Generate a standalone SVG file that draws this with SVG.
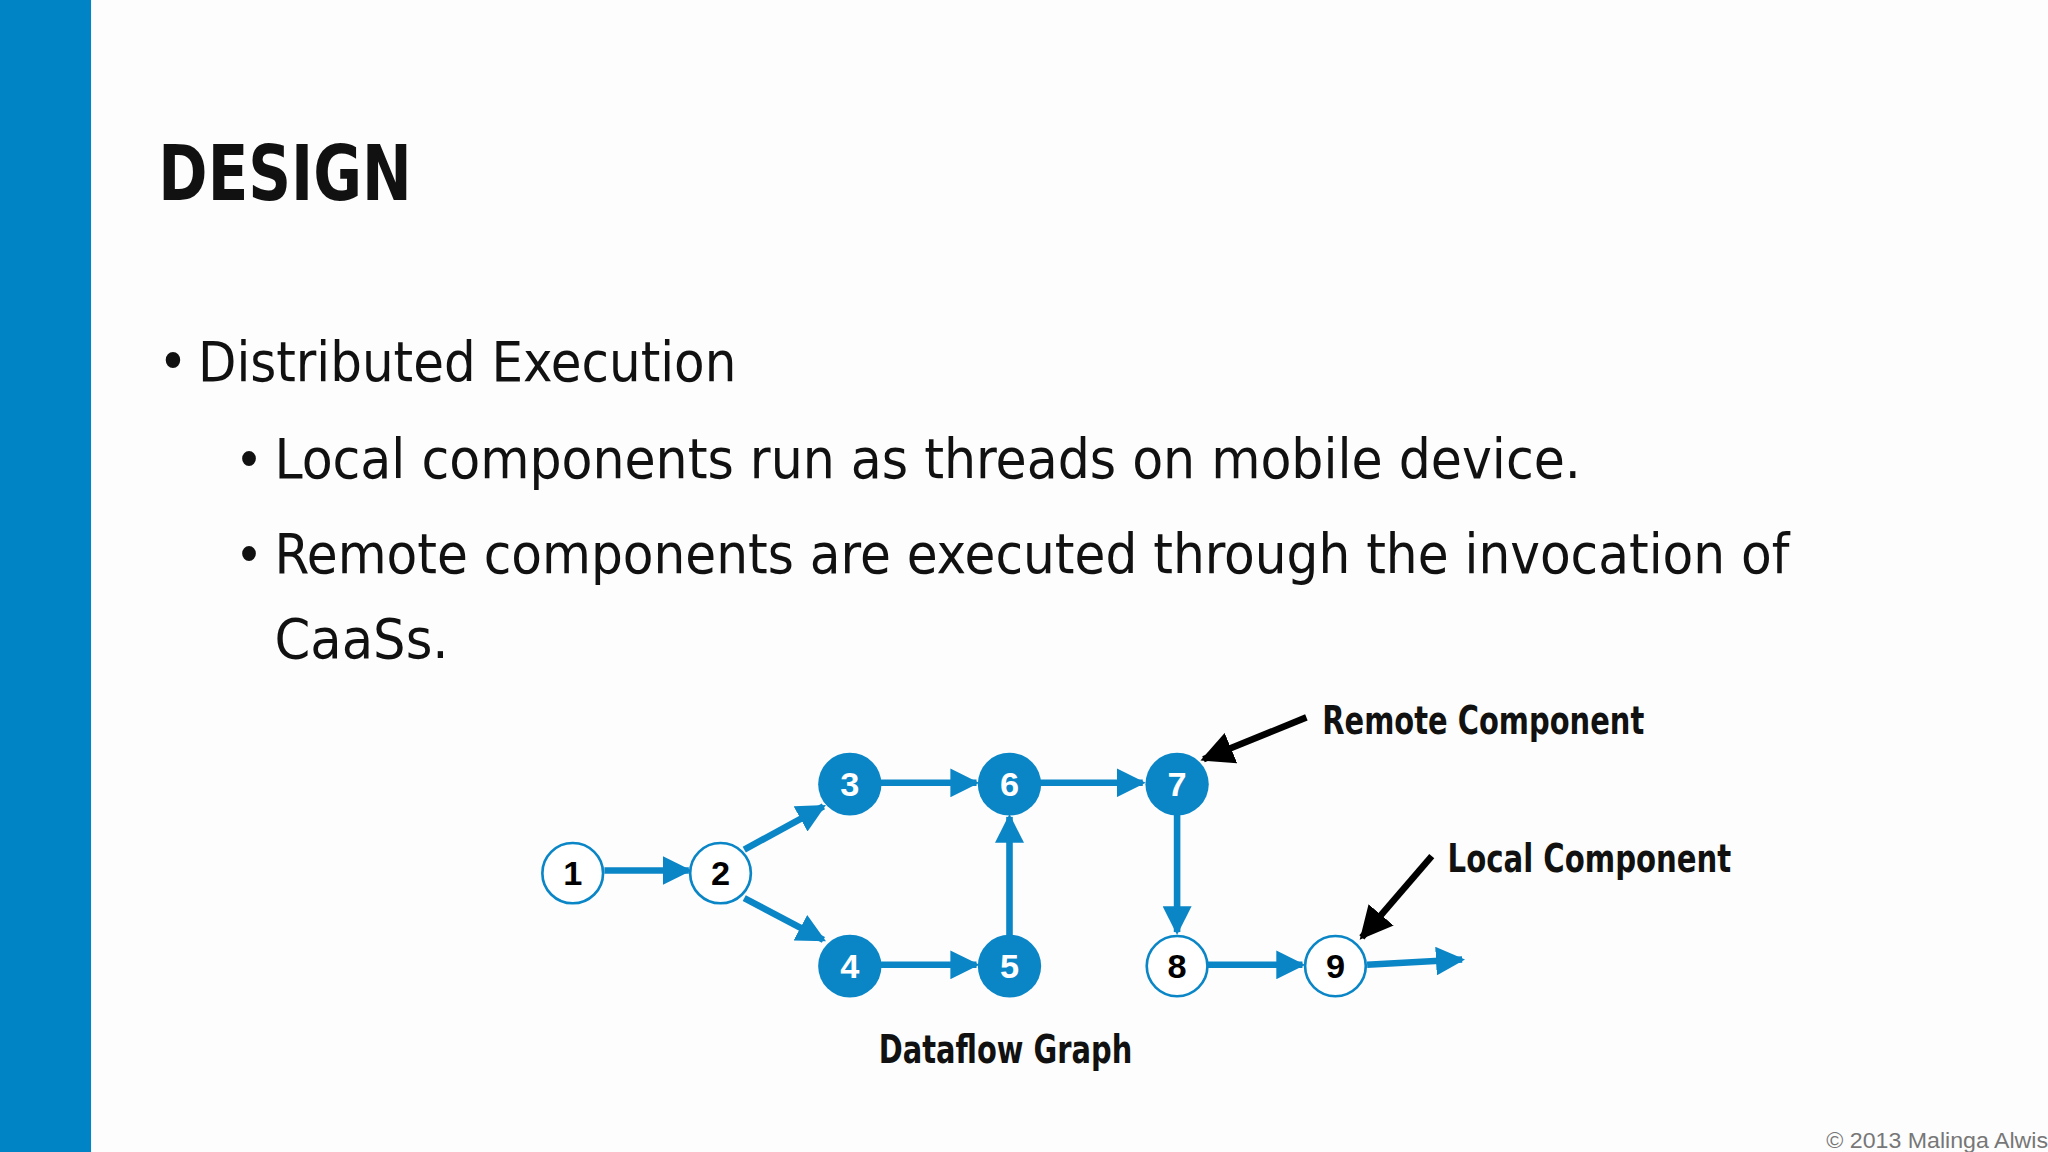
<svg xmlns="http://www.w3.org/2000/svg" width="2048" height="1152" viewBox="0 0 2048 1152">
<defs>
<style>
.t{font-family:"Liberation Sans Narrow","DejaVu Sans Condensed","Roboto Condensed","Liberation Sans",sans-serif;fill:#111}
.b{font-weight:bold}
.n{font-family:"Liberation Sans","Roboto",sans-serif;font-weight:bold;font-size:26px;text-anchor:middle}
.e{stroke:#0a86c7;stroke-width:5;fill:none;marker-end:url(#ah)}
.k{stroke:#000;stroke-width:5;fill:none;marker-end:url(#ak)}
</style>
<marker id="ah" viewBox="0 0 10 10" refX="9" refY="5" markerWidth="4.4" markerHeight="4.4" orient="auto" markerUnits="strokeWidth"><path d="M0,0L10,5L0,10z" fill="#0a86c7"/></marker>
<marker id="ak" viewBox="0 0 10 10" refX="9" refY="5" markerWidth="5" markerHeight="5" orient="auto" markerUnits="strokeWidth"><path d="M0,0L10,5L0,10z" fill="#000"/></marker>
</defs>
<rect width="2048" height="1152" fill="#fdfdfd"/>
<g transform="scale(1.3196 1.3091)">
<rect x="0" y="0" width="69" height="880" fill="#0084c6"/>
<text class="t b" x="120" y="153" font-size="58" textLength="192" lengthAdjust="spacingAndGlyphs">DESIGN</text>
<text class="t" x="120" y="291" font-size="42">•</text>
<text class="t" x="150" y="291" font-size="42" textLength="408" lengthAdjust="spacingAndGlyphs">Distributed Execution</text>
<text class="t" x="178" y="365" font-size="40">•</text>
<text class="t" x="208" y="365" font-size="42" textLength="990" lengthAdjust="spacingAndGlyphs">Local components run as threads on mobile device.</text>
<text class="t" x="178" y="438" font-size="40">•</text>
<text class="t" x="208" y="438" font-size="42" textLength="1148" lengthAdjust="spacingAndGlyphs">Remote components are executed through the invocation of</text>
<text class="t" x="208" y="503" font-size="42" textLength="132" lengthAdjust="spacingAndGlyphs">CaaSs.</text>
<g id="connectors">
<path class="e" d="M458,665H522" stroke-width="6"/>
<path class="e" d="M564,649L624,616"/>
<path class="e" d="M564,686L624,718"/>
<path class="e" d="M667,598H740"/>
<path class="e" d="M788,598H866"/>
<path class="e" d="M667,737H740"/>
<path class="e" d="M765,715V624"/>
<path class="e" d="M892,622V712" stroke-width="4"/>
<path class="e" d="M915,737H987"/>
<path class="e" d="M1036,737L1108,733"/>
<path class="k" d="M990,548L912,580"/>
<path class="k" d="M1085,654L1032,716"/>
</g>
<g id="n1"><circle cx="434" cy="667" r="23" fill="#fff" stroke="#0a86c7" stroke-width="2"/><text class="n" x="434" y="676">1</text></g>
<g id="n2"><circle cx="546" cy="667" r="23" fill="#fff" stroke="#0a86c7" stroke-width="2"/><text class="n" x="546" y="676">2</text></g>
<g id="n3"><circle cx="644" cy="599" r="24" fill="#0a86c7"/><text class="n" x="644" y="608" fill="#fff">3</text></g>
<g id="n6"><circle cx="765" cy="599" r="24" fill="#0a86c7"/><text class="n" x="765" y="608" fill="#fff">6</text></g>
<g id="n7"><circle cx="892" cy="599" r="24" fill="#0a86c7"/><text class="n" x="892" y="608" fill="#fff">7</text></g>
<g id="n4"><circle cx="644" cy="738" r="24" fill="#0a86c7"/><text class="n" x="644" y="747" fill="#fff">4</text></g>
<g id="n5"><circle cx="765" cy="738" r="24" fill="#0a86c7"/><text class="n" x="765" y="747" fill="#fff">5</text></g>
<g id="n8"><circle cx="892" cy="738" r="23" fill="#fff" stroke="#0a86c7" stroke-width="2"/><text class="n" x="892" y="747">8</text></g>
<g id="n9"><circle cx="1012" cy="738" r="23" fill="#fff" stroke="#0a86c7" stroke-width="2"/><text class="n" x="1012" y="747">9</text></g>
<text class="t b" x="1002" y="561" font-size="30" textLength="244" lengthAdjust="spacingAndGlyphs">Remote Component</text>
<text class="t b" x="1097" y="666" font-size="30" textLength="215" lengthAdjust="spacingAndGlyphs">Local Component</text>
<text class="t b" x="666" y="812" font-size="30" textLength="192" lengthAdjust="spacingAndGlyphs">Dataflow Graph</text>
<text x="1384" y="877" font-size="17" fill="#777" font-family="Liberation Sans,sans-serif" textLength="168" lengthAdjust="spacingAndGlyphs">© 2013 Malinga Alwis</text>
</g>
</svg>
